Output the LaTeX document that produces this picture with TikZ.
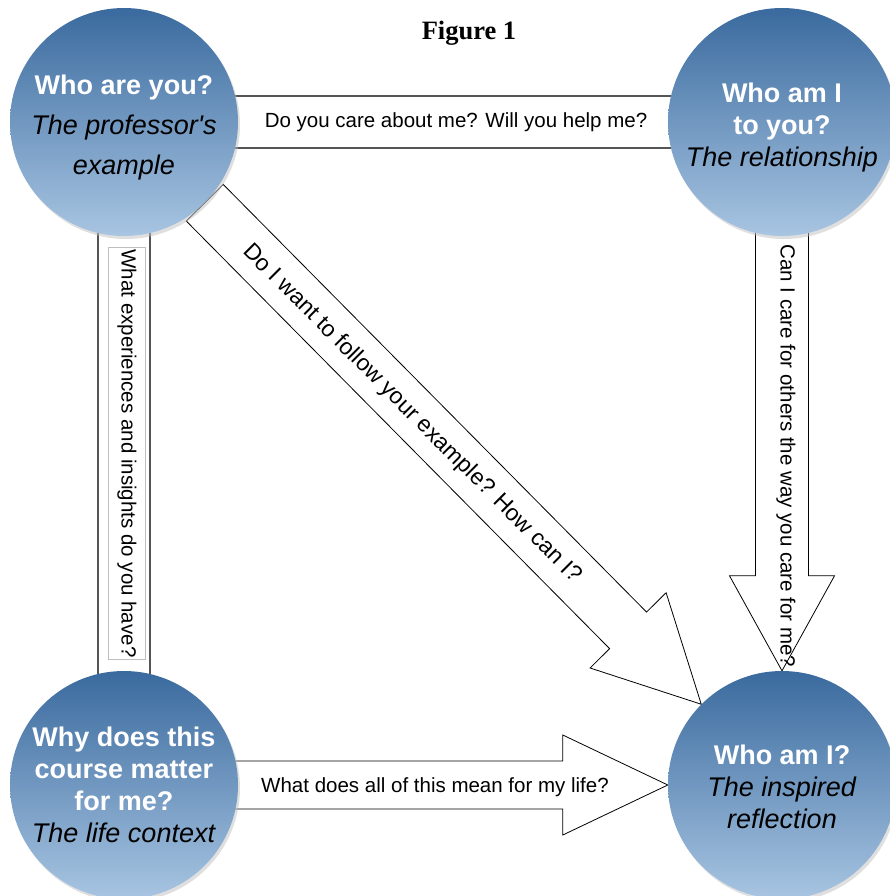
\documentclass[tikz,border=0pt]{standalone}
\usepackage{fontspec}
\setmainfont{Liberation Sans}
\newfontfamily\titlefont{Liberation Serif}
\usetikzlibrary{calc,shadows,backgrounds}

\definecolor{topblue}{HTML}{3A6A9E}
\definecolor{lowblue}{HTML}{A8C5E2}
\definecolor{bandgray}{HTML}{555555}

\tikzset{
  bubble/.style={circle, minimum size=228pt, inner sep=0pt, align=center,
    top color=topblue, bottom color=lowblue,
    drop shadow={shadow xshift=2pt, shadow yshift=-3pt, fill=black!25},
    font=\fontsize{27}{32}\selectfont},
  band/.style={draw=bandgray, line width=1.2pt},
  fat/.style={draw=black, fill=white, line width=0.8pt},
  qtext/.style={font=\fontsize{20.5}{24}\selectfont, inner sep=1pt}
}

\newcommand{\bubhead}[1]{\textcolor{white}{\bfseries #1}}
\newcommand{\bubsub}[1]{\textit{#1}}
\newcommand{\bubstrut}{\rule{0pt}{30pt}}
% fat arrow: from, to, shaft half width, head half width, head length
\newcommand{\fatarrow}[5]{%
  \coordinate (hb) at ($(#2)!#5!(#1)$);
  \draw[fat] ($(#1)!#3!90:(#2)$) -- ($(hb)!#3!90:(#2)$) -- ($(hb)!#4!90:(#2)$) -- (#2)
    -- ($(hb)!#4!-90:(#2)$) -- ($(hb)!#3!-90:(#2)$) -- ($(#1)!#3!-90:(#2)$) -- cycle;
}

\begin{document}
\begin{tikzpicture}[x=1pt,y=-1pt]
    \useasboundingbox (0,0) rectangle (890,896);

    % Title
    \node[font=\titlefont\bfseries\fontsize{26.5}{30}\selectfont] (title) at (469,33) {Figure 1};

    % The four circles
    \node[bubble, font=\fontsize{27}{40}\selectfont] (prof) at (124,122)
        {\bubstrut\bubhead{Who are you?}\\ \bubsub{The professor\textquotesingle s}\\ \bubsub{example}};
    \node[bubble] (rel) at (782,122)
        {\bubstrut\bubhead{Who am I}\\ \bubhead{to you?}\\ \bubsub{The relationship}};
    \node[bubble] (life) at (124,785)
        {\bubhead{Why does this}\\ \bubhead{course matter}\\ \bubhead{for me?}\\ \bubsub{The life context}};
    \node[bubble] (refl) at (782,785)
        {\rule{0pt}{24pt}\bubhead{Who am I?}\\ \bubsub{The inspired}\\ \bubsub{reflection}};

    % Bands and arrows behind the circles
    \begin{scope}[on background layer]
        \draw[band] ($(prof.center)+(0,-26)$) -- ($(rel.center)+(0,-26)$);
        \draw[band] ($(prof.center)+(0,26)$) -- ($(rel.center)+(0,26)$);
        \draw[band] ($(prof.center)+(-26,0)$) -- ($(life.center)+(-26,0)$);
        \draw[band] ($(prof.center)+(26,0)$) -- ($(life.center)+(26,0)$);
        \fatarrow{rel.center}{refl.north}{26.5pt}{52.5pt}{95pt}
        \fatarrow{life.center}{refl.west}{24pt}{50pt}{105pt}
        \fatarrow{prof.south east}{refl.north west}{26pt}{53.5pt}{104pt}
    \end{scope}

    % Questions
    \node[qtext] (q1) at ($(prof)!0.5!(rel)+(3,0)$) {Do you care about me? Will you help me?};
    \node[qtext, rotate=-90, draw=black!25, inner xsep=2pt, inner ysep=9pt] (q2)
        at ($(prof)!0.5!(life)+(3,0)$) {What experiences and insights do you have?};
    \node[qtext, rotate=-90] (q3) at (786,456) {Can I care for others the way you care for me?};
    \node[qtext] (q4) at (435,787) {What does all of this mean for my life?};
    \node[qtext, font=\fontsize{23}{26}\selectfont, rotate=-45] (q5) at (412,414)
        {Do I want to follow your example? How can I?};
\end{tikzpicture}
\end{document}
